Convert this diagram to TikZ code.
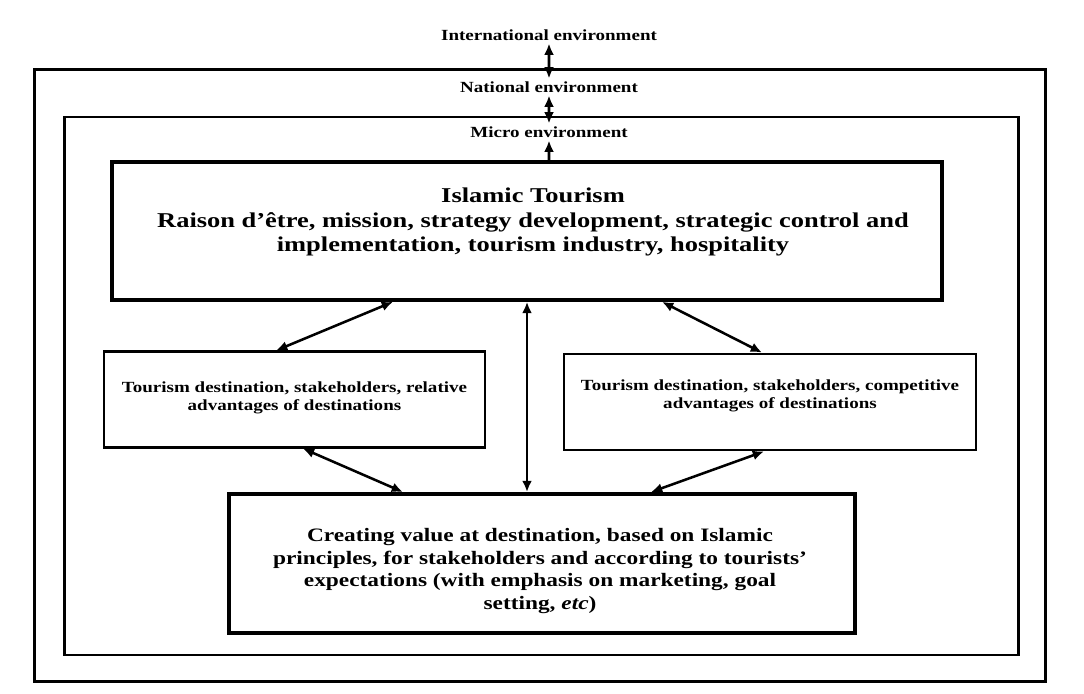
\documentclass[tikz,border=0pt]{standalone}
\usepackage{fontspec}
\setmainfont{Liberation Serif}
\usetikzlibrary{arrows.meta}

\tikzset{
  envbox/.style={draw, line width=2pt, inner sep=0pt},
  mainbox/.style={draw, line width=2.6pt, inner sep=0pt},
  wide/.style={xscale=1.23, align=center},
  label/.style={wide, font=\bfseries\fontsize{11}{13}\selectfont, inner sep=2pt},
  link/.style={line width=1.8pt, {Latex[length=8pt,width=7pt]}-{Latex[length=8pt,width=7pt]}},
  uplink/.style={line width=1.8pt, -{Latex[length=8pt,width=7pt]}},
}

\begin{document}
\begin{tikzpicture}[x=0.025cm, y=-0.025cm]
    \useasboundingbox (0,0) rectangle (1084,694);

    % environments
    \node[envbox, minimum width=25.25cm, minimum height=15.3cm] (outer) at (540,375.5) {};
    \node[envbox, minimum width=23.85cm, minimum height=13.45cm] (nation) at (541.5,386) {};

    \node[label] (intl) at (549,35) {International environment};
    \node[label] (natl) at (549,87) {National environment};
    \node[label] (micro) at (549,132) {Micro environment};

    % boxes
    \node[mainbox, minimum width=20.75cm, minimum height=3.45cm] (islam) at (527,231) {};
    \node[wide, xscale=1.02, font=\bfseries\fontsize{15}{17.5}\selectfont] (islamtxt) at (533,222)
        {Islamic Tourism\\Raison d'être, mission, strategy development, strategic control and\\implementation, tourism industry, hospitality};

    \node[envbox, minimum width=9.52cm, minimum height=2.38cm] (relative) at (294.5,399.5) {};
    \node[wide, font=\bfseries\fontsize{11}{13}\selectfont] (relativetxt) at (294.5,398)
        {Tourism destination, stakeholders, relative\\advantages of destinations};

    \node[envbox, minimum width=10.3cm, minimum height=2.4cm] (compet) at (770,402) {};
    \node[wide, font=\bfseries\fontsize{11}{13}\selectfont] (compettxt) at (770,396)
        {Tourism destination, stakeholders, competitive\\advantages of destinations};

    \node[mainbox, minimum width=15.65cm, minimum height=3.48cm] (value) at (542,563.5) {};
    \node[wide, font=\bfseries\fontsize{13.5}{16}\selectfont] (valuetxt) at (540,571)
        {Creating value at destination, based on Islamic\\principles, for stakeholders and according to tourists'\\expectations (with emphasis on marketing, goal\\setting, \textit{etc})};

    % connectors
    \draw[link] (intl) -- (natl);
    \draw[link] (natl) -- (micro);
    \draw[uplink] (micro.south |- islam.north) -- (micro);

    \draw[link] ([xshift=-3.35cm]islam.south) -- ([xshift=-0.46cm]relative.north);
    \draw[link] ([xshift=3.375cm]islam.south) -- ([xshift=-0.2cm]compet.north);
    \draw[link] (islam.south) -- (islam.south |- value.north);
    \draw[link] ([xshift=0.21cm]relative.south) -- ([xshift=-3.475cm]value.north);
    \draw[link] ([xshift=-0.15cm]compet.south) -- ([xshift=2.725cm]value.north);
\end{tikzpicture}
\end{document}
